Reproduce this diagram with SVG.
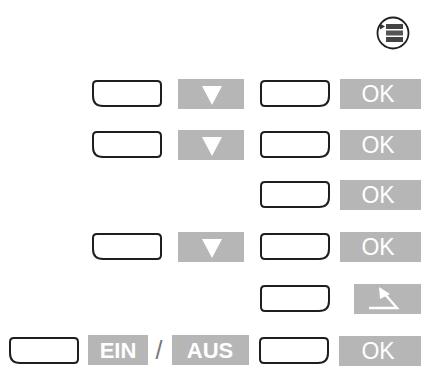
<svg xmlns="http://www.w3.org/2000/svg" xmlns:xlink="http://www.w3.org/1999/xlink" width="423" height="374" viewBox="0 0 423 374">
<style>
.key{fill:#fff;stroke:#1e1e1e;stroke-width:2}
.box{fill:#b6b6b6}
.lbl{fill:#fff;font-family:"Liberation Sans",Arial,sans-serif;font-size:23px;text-anchor:middle}
.blbl{fill:#fff;font-family:"Liberation Sans",Arial,sans-serif;font-size:22px;font-weight:bold;text-anchor:middle}
.tri{fill:#fff}
</style>
<defs>
<path id="keyR" d="M4,0 H64 Q68,0 68,4 V15 Q68,25 58,25 H4 Q0,25 0,21 V4 Q0,0 4,0 Z"/>
<path id="keyL" d="M4,0 H64 Q68,0 68,4 V21 Q68,25 64,25 H10 Q0,25 0,15 V4 Q0,0 4,0 Z"/>
</defs>
<rect width="423" height="374" fill="#fff"/>
<g id="menu-icon">
<circle cx="393" cy="33" r="15.5" fill="#fff" stroke="#1e1e1e" stroke-width="1.8"/>
<polygon points="380,23.5 385,26.5 380,29.5" fill="#333"/>
<rect x="386" y="24" width="17" height="5" fill="#444"/>
<rect x="386" y="30.5" width="17" height="5" fill="#555"/>
<rect x="386" y="37" width="17" height="5" fill="#444"/>
</g>
<g id="row1">
<use xlink:href="#keyL" class="key" x="93" y="81"/>
<rect class="box" x="178" y="79" width="66" height="30"/>
<polygon class="tri" points="202,86 222,86 212,105"/>
<use xlink:href="#keyR" class="key" x="261" y="81"/>
<rect class="box" x="340" y="79" width="81" height="30"/>
<text class="lbl" x="378" y="102">OK</text>
</g>
<g id="row2">
<use xlink:href="#keyL" class="key" x="93" y="132"/>
<rect class="box" x="178" y="130" width="66" height="30"/>
<polygon class="tri" points="202,137 222,137 212,156"/>
<use xlink:href="#keyR" class="key" x="261" y="132"/>
<rect class="box" x="340" y="130" width="81" height="30"/>
<text class="lbl" x="378" y="153">OK</text>
</g>
<g id="row3">
<use xlink:href="#keyR" class="key" x="261" y="182"/>
<rect class="box" x="340" y="180" width="81" height="30"/>
<text class="lbl" x="378" y="203">OK</text>
</g>
<g id="row4">
<use xlink:href="#keyL" class="key" x="93" y="234"/>
<rect class="box" x="178" y="232" width="66" height="30"/>
<polygon class="tri" points="202,239 222,239 212,258"/>
<use xlink:href="#keyR" class="key" x="261" y="234"/>
<rect class="box" x="340" y="232" width="81" height="30"/>
<text class="lbl" x="378" y="255">OK</text>
</g>
<g id="row5">
<use xlink:href="#keyR" class="key" x="261" y="286"/>
<rect class="box" x="354" y="284" width="67" height="30"/>
<path d="M369,308 H397 L383,292" fill="none" stroke="#fff" stroke-width="2.4"/>
<polygon points="379,287 380,299 390,294" fill="#fff"/>
</g>
<g id="row6">
<use xlink:href="#keyL" class="key" x="10" y="338"/>
<rect class="box" x="88" y="335" width="60" height="30"/>
<text class="blbl" x="118" y="358">EIN</text>
<text x="159" y="359" font-family="Liberation Sans,Arial,sans-serif" font-size="25" fill="#777" text-anchor="middle">/</text>
<rect class="box" x="172" y="335" width="77" height="30"/>
<text class="blbl" x="210" y="358">AUS</text>
<use xlink:href="#keyR" class="key" x="260" y="338"/>
<rect class="box" x="339" y="336" width="82" height="30"/>
<text class="lbl" x="378" y="359">OK</text>
</g>
</svg>
